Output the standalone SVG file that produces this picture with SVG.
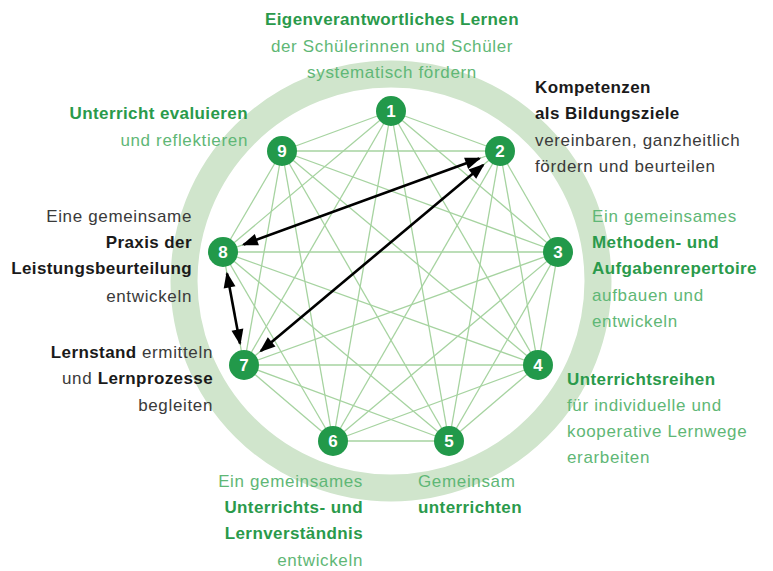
<svg xmlns="http://www.w3.org/2000/svg" width="773" height="571" viewBox="0 0 773 571">
<style>
text{font-family:"Liberation Sans",Arial,sans-serif;font-size:17px}
.b{font-weight:bold;letter-spacing:0.4px}
.r{font-weight:normal;letter-spacing:0.65px}
.g{fill:#2a9a4b}
.lg{fill:#5fb776}
.k{fill:#1a1a1a}
.d{fill:#3a3a3a}
.e{text-anchor:end}
.m{text-anchor:middle}
.edge{stroke:#a6d3a0;stroke-width:1.3;fill:none}
.arrow{stroke:#000;stroke-width:2.6;fill:none;marker-start:url(#ah);marker-end:url(#ah)}
.nc{fill:#22994a}
.nt{fill:#fff;font-weight:bold;font-size:17px;text-anchor:middle}
</style>
<defs>
<marker id="ah" markerUnits="userSpaceOnUse" markerWidth="16" markerHeight="12" refX="14" refY="6" orient="auto-start-reverse" overflow="visible">
<path d="M0,0 L16,6 L0,12 z" fill="#000"/>
</marker>
</defs>
<rect width="773" height="571" fill="#fff"/>
<circle id="ring" cx="391" cy="281" r="207" fill="none" stroke="#d0e5cc" stroke-width="27"/>
<g id="connectors">
<line class="edge" x1="391" y1="111" x2="500" y2="151"/>
<line class="edge" x1="391" y1="111" x2="558" y2="252"/>
<line class="edge" x1="391" y1="111" x2="538" y2="365"/>
<line class="edge" x1="391" y1="111" x2="449" y2="441"/>
<line class="edge" x1="391" y1="111" x2="333" y2="441"/>
<line class="edge" x1="391" y1="111" x2="244" y2="365"/>
<line class="edge" x1="391" y1="111" x2="223" y2="252"/>
<line class="edge" x1="391" y1="111" x2="282" y2="151"/>
<line class="edge" x1="500" y1="151" x2="558" y2="252"/>
<line class="edge" x1="500" y1="151" x2="538" y2="365"/>
<line class="edge" x1="500" y1="151" x2="449" y2="441"/>
<line class="edge" x1="500" y1="151" x2="333" y2="441"/>
<line class="edge" x1="500" y1="151" x2="244" y2="365"/>
<line class="edge" x1="500" y1="151" x2="223" y2="252"/>
<line class="edge" x1="500" y1="151" x2="282" y2="151"/>
<line class="edge" x1="558" y1="252" x2="538" y2="365"/>
<line class="edge" x1="558" y1="252" x2="449" y2="441"/>
<line class="edge" x1="558" y1="252" x2="333" y2="441"/>
<line class="edge" x1="558" y1="252" x2="244" y2="365"/>
<line class="edge" x1="558" y1="252" x2="223" y2="252"/>
<line class="edge" x1="558" y1="252" x2="282" y2="151"/>
<line class="edge" x1="538" y1="365" x2="449" y2="441"/>
<line class="edge" x1="538" y1="365" x2="333" y2="441"/>
<line class="edge" x1="538" y1="365" x2="244" y2="365"/>
<line class="edge" x1="538" y1="365" x2="223" y2="252"/>
<line class="edge" x1="538" y1="365" x2="282" y2="151"/>
<line class="edge" x1="449" y1="441" x2="333" y2="441"/>
<line class="edge" x1="449" y1="441" x2="244" y2="365"/>
<line class="edge" x1="449" y1="441" x2="223" y2="252"/>
<line class="edge" x1="449" y1="441" x2="282" y2="151"/>
<line class="edge" x1="333" y1="441" x2="244" y2="365"/>
<line class="edge" x1="333" y1="441" x2="223" y2="252"/>
<line class="edge" x1="333" y1="441" x2="282" y2="151"/>
<line class="edge" x1="244" y1="365" x2="223" y2="252"/>
<line class="edge" x1="244" y1="365" x2="282" y2="151"/>
<line class="edge" x1="223" y1="252" x2="282" y2="151"/>
<line class="arrow" x1="479.3" y1="158.5" x2="243.7" y2="244.5"/>
<line class="arrow" x1="483.1" y1="165.1" x2="260.9" y2="350.9"/>
<line class="arrow" x1="227" y1="273.6" x2="240" y2="343.4"/>
</g>
<g id="node1">
<circle class="nc" cx="391" cy="111" r="15"/>
<text class="nt" x="391" y="117">1</text>
<text class="b g m" x="392" y="25">Eigenverantwortliches Lernen</text>
<text class="r lg m" x="392" y="52">der Schülerinnen und Schüler</text>
<text class="r lg m" x="392" y="78">systematisch fördern</text>
</g>
<g id="node2">
<circle class="nc" cx="500" cy="151" r="15"/>
<text class="nt" x="500" y="157">2</text>
<text class="b k" x="535" y="93">Kompetenzen</text>
<text class="b k" x="535" y="119">als Bildungsziele</text>
<text class="r d" x="535" y="146">vereinbaren, ganzheitlich</text>
<text class="r d" x="535" y="172">fördern und beurteilen</text>
</g>
<g id="node3">
<circle class="nc" cx="558" cy="252" r="15"/>
<text class="nt" x="558" y="258">3</text>
<text class="r lg" x="592" y="222">Ein gemeinsames</text>
<text class="b g" x="592" y="248">Methoden- und</text>
<text class="b g" x="592" y="274">Aufgabenrepertoire</text>
<text class="r lg" x="592" y="301">aufbauen und</text>
<text class="r lg" x="592" y="327">entwickeln</text>
</g>
<g id="node4">
<circle class="nc" cx="538" cy="365" r="15"/>
<text class="nt" x="538" y="371">4</text>
<text class="b g" x="567" y="385">Unterrichtsreihen</text>
<text class="r lg" x="567" y="411">für individuelle und</text>
<text class="r lg" x="567" y="437">kooperative Lernwege</text>
<text class="r lg" x="567" y="463">erarbeiten</text>
</g>
<g id="node5">
<circle class="nc" cx="449" cy="441" r="15"/>
<text class="nt" x="449" y="447">5</text>
<text class="r lg" x="418" y="487">Gemeinsam</text>
<text class="b g" x="418" y="513">unterrichten</text>
</g>
<g id="node6">
<circle class="nc" cx="333" cy="441" r="15"/>
<text class="nt" x="333" y="447">6</text>
<text class="r lg e" x="363" y="487">Ein gemeinsames</text>
<text class="b g e" x="363" y="513">Unterrichts- und</text>
<text class="b g e" x="363" y="539">Lernverständnis</text>
<text class="r lg e" x="363" y="566">entwickeln</text>
</g>
<g id="node7">
<circle class="nc" cx="244" cy="365" r="15"/>
<text class="nt" x="244" y="371">7</text>
<text class="e" x="213" y="358"><tspan class="b k">Lernstand</tspan><tspan class="r d"> ermitteln</tspan></text>
<text class="e" x="213" y="384"><tspan class="r d">und </tspan><tspan class="b k">Lernprozesse</tspan></text>
<text class="r d e" x="213" y="411">begleiten</text>
</g>
<g id="node8">
<circle class="nc" cx="223" cy="252" r="15"/>
<text class="nt" x="223" y="258">8</text>
<text class="r d e" x="192" y="222">Eine gemeinsame</text>
<text class="b k e" x="192" y="248">Praxis der</text>
<text class="b k e" x="192" y="274">Leistungsbeurteilung</text>
<text class="r d e" x="192" y="302">entwickeln</text>
</g>
<g id="node9">
<circle class="nc" cx="282" cy="151" r="15"/>
<text class="nt" x="282" y="157">9</text>
<text class="b g e" x="248" y="119">Unterricht evaluieren</text>
<text class="r lg e" x="248" y="146">und reflektieren</text>
</g>
</svg>
